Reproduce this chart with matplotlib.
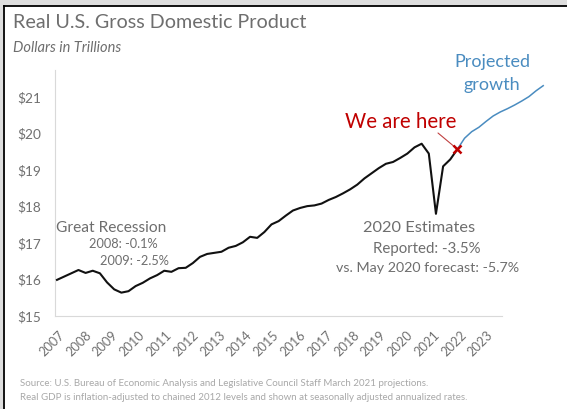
import matplotlib
matplotlib.use('Agg')
import matplotlib.pyplot as plt
from matplotlib.patches import Rectangle
from matplotlib.lines import Line2D

plt.rcParams['font.family'] = ['Lato', 'DejaVu Sans']

W, H = 567, 409

# ---- data (trillions of dollars, quarterly from 2007Q1) ----
year_labels = [str(y) for y in range(2007, 2024)]
y_ticks = [15, 16, 17, 18, 19, 20, 21]
y_tick_labels = ['$15', '$16', '$17', '$18', '$19', '$20', '$21']

actual = [15.99, 16.08, 16.17, 16.26, 16.18, 16.24, 16.17, 15.92, 15.73, 15.64,
          15.68, 15.82, 15.91, 16.03, 16.12, 16.24, 16.21, 16.31, 16.32, 16.45,
          16.62, 16.70, 16.73, 16.76, 16.87, 16.92, 17.02, 17.17, 17.14, 17.30,
          17.51, 17.60, 17.75, 17.89, 17.96, 18.01, 18.03, 18.08, 18.18, 18.26,
          18.36, 18.47, 18.60, 18.77, 18.91, 19.05, 19.17, 19.22, 19.33, 19.45,
          19.62, 19.72, 19.45, 17.80, 19.10, 19.29, 19.57]
projected = [19.57, 19.87, 20.05, 20.17, 20.33, 20.48, 20.59, 20.68, 20.78,
             20.89, 21.01, 21.17, 21.31]
here_index = len(actual) - 1

# ---- layout helpers (pixels) ----
PXQ = 7.15      # pixels per quarter
X0 = 57         # pixel of first quarter
PXU = 36.5      # pixels per trillion
YEAR_PX = 26.8  # spacing of year labels
ax_left, ax_right, ax_top, ax_bot = 55, 548, 70, 316

def fx(x):
    return x / W

def fy(y):
    return 1 - y / H

fig = plt.figure(figsize=(W / 100, H / 100), dpi=100)
fig.patch.set_facecolor('white')

# screenshot frame
fig.add_artist(Rectangle((0, fy(5.5)), 1, 5.5 / H, transform=fig.transFigure,
                         facecolor='#dedede', edgecolor='none', zorder=0))
fig.add_artist(Rectangle((0, 0), 3 / W, 1, transform=fig.transFigure,
                         facecolor='#dedede', edgecolor='none', zorder=0))
fig.add_artist(Line2D([fx(3.5), 1], [fy(6.3), fy(6.3)], transform=fig.transFigure,
                      color='black', lw=1.3))
fig.add_artist(Line2D([fx(4), fx(4)], [fy(6), 0], transform=fig.transFigure,
                      color='black', lw=1.3))

ax = fig.add_axes([fx(ax_left), fy(ax_bot), (ax_right - ax_left) / W,
                   (ax_bot - ax_top) / H])
ax.set_xlim((ax_left - X0) / PXQ, (ax_right - X0) / PXQ)
ax.set_ylim(15, 15 + (ax_bot - ax_top) / PXU)
ax.set_facecolor('none')

xa = list(range(len(actual)))
xp = list(range(here_index, here_index + len(projected)))
ax.plot(xa, actual, color='#111111', lw=1.5, solid_joinstyle='round', zorder=3)
ax.plot(xp, projected, color='#4a8cc0', lw=1.1, zorder=3)
ax.plot([here_index], [actual[here_index]], marker='x', color='#c00000',
        ms=5.5, mew=1.8, zorder=4)

# axes styling
for s in ['top', 'right', 'bottom']:
    ax.spines[s].set_visible(False)
ax.spines['left'].set_color('#d9d9d9')
ax.spines['left'].set_linewidth(0.8)
ax.axhline(15, xmin=0, xmax=(502 - ax_left) / (ax_right - ax_left),
           color='#d9d9d9', lw=0.8, clip_on=False)

ax.set_yticks(y_ticks)
ax.set_yticklabels(y_tick_labels)
tick_pos = [(YEAR_PX * k + 1) / PXQ for k in range(len(year_labels))]
ax.set_xticks(tick_pos)
ax.set_xticklabels(year_labels, rotation=45, ha='right', va='top',
                   rotation_mode='anchor')
ax.tick_params(axis='both', length=0, labelcolor='#707070')
ax.tick_params(axis='y', pad=10, labelsize=9.8)
ax.tick_params(axis='x', pad=9, labelsize=9.2)

# "We are here" connector
ax.annotate('', xy=(here_index, actual[here_index]),
            xytext=(438, H - 133), textcoords='figure pixels',
            arrowprops=dict(arrowstyle='-', color='#c04040', lw=0.8,
                            shrinkA=0, shrinkB=3))

# ---- texts ----
gray = '#6e6e6e'
fig.text(fx(13), fy(28), 'Real U.S. Gross Domestic Product', color=gray,
         fontsize=14.2, va='baseline')
fig.text(fx(13), fy(52), 'Dollars in Trillions', color=gray, fontsize=10.5,
         style='italic', va='baseline')

fig.text(fx(56), fy(232), 'Great Recession', color=gray, fontsize=11.2,
         va='baseline')
fig.text(fx(89), fy(248), '2008: -0.1%', color=gray, fontsize=9.2, va='baseline')
fig.text(fx(100), fy(265), '2009: -2.5%', color=gray, fontsize=9.2, va='baseline')

fig.text(fx(363), fy(232.5), '2020 Estimates', color=gray, fontsize=11.8,
         va='baseline')
fig.text(fx(373), fy(253), 'Reported: -3.5%', color=gray, fontsize=10.8,
         va='baseline')
fig.text(fx(336), fy(272), 'vs. May 2020 forecast: -5.7%', color=gray,
         fontsize=10.3, va='baseline')

fig.text(fx(345), fy(128), 'We are here', color='#c00000', fontsize=14.8,
         va='baseline')
fig.text(fx(492), fy(67), 'Projected', color='#4a8cc0', fontsize=13,
         va='baseline', ha='center')
fig.text(fx(492), fy(90), 'growth', color='#4a8cc0', fontsize=13,
         va='baseline', ha='center')

src = '#a8a8a8'
fig.text(fx(20), fy(386), 'Source: U.S. Bureau of Economic Analysis and Legislative '
         'Council Staff March 2021 projections.', color=src, fontsize=7.0,
         va='baseline')
fig.text(fx(20), fy(400), 'Real GDP is inflation-adjusted to chained 2012 levels '
         'and shown at seasonally adjusted annualized rates.', color=src,
         fontsize=7.0, va='baseline')

fig.savefig('out.png', dpi=100, facecolor='white')
